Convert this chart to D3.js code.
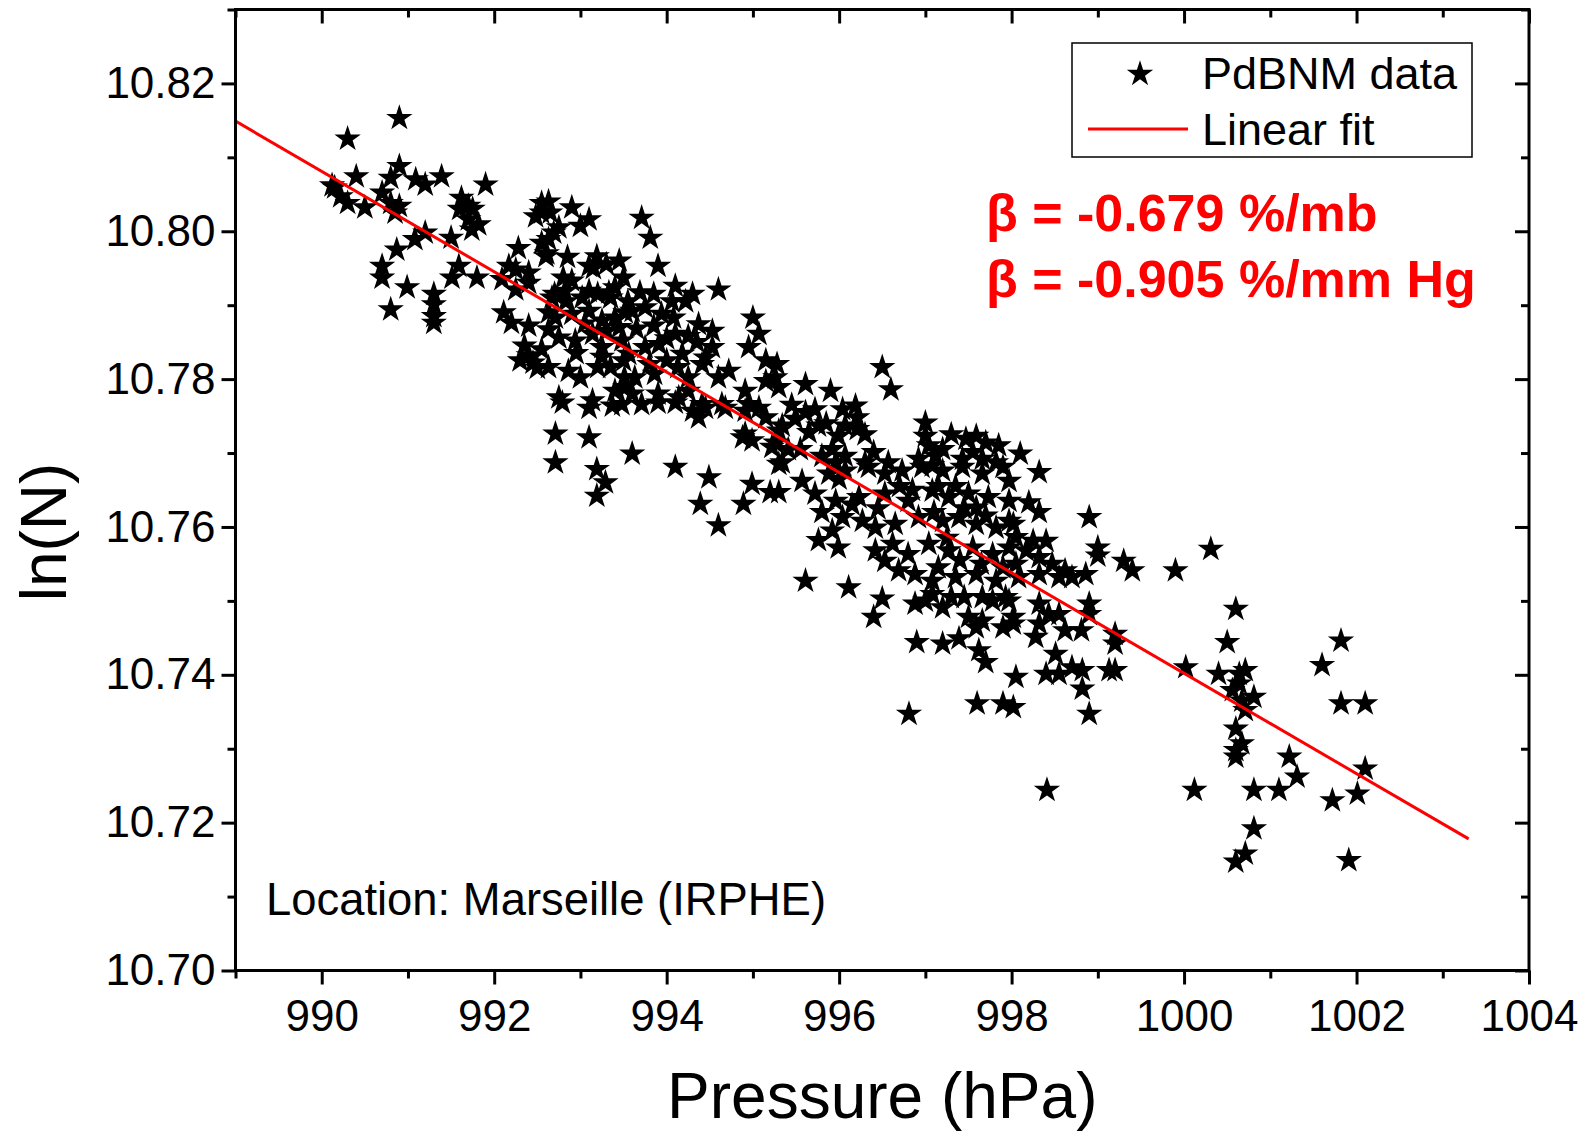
<!DOCTYPE html>
<html><head><meta charset="utf-8">
<script src="https://cdn.jsdelivr.net/npm/d3@7"></script>
<style>body{margin:0;background:#fff}svg{display:block}</style>
</head><body><svg id="c" width="1590" height="1134"></svg>
<script>
const pressure = [
990.15,990.12,990.22,990.3,990.3,990.4,990.5,990.7,990.8,990.9,990.9,990.9,990.8,991.09,991.2,991.39,991.9,991.62,991.7,992.55,992.63,
990.85,991.2,991.08,991.5,990.87,990.7,990.7,990.99,991.3,991.3,991.3,990.8,991.3,991.59,991.51,991.8,991.7,991.82,991.74,991.6,991.75,992.48,992.55,992.28,992.55,992.6,992.63,992.17,992.25,992.4,992.4,992.09,992.25,992.11,992.2,992.4,992.63,992.63,
992.35,992.4,992.45,992.5,992.3,992.55,
992.9,993.1,993.0,992.69,992.61,993.71,993.81,993.9,993.19,993.1,992.8,992.9,992.82,992.7,993.5,993.4,993.33,993.1,993.2,993.69,994.1,994.3,994.6,
992.67,992.83,993.02,993.35,993.52,994.06,994.22,
992.71,992.9,993.1,993.25,993.4,993.6,993.75,993.94,994.08,994.37,994.53,995.0,995.07,
992.75,992.94,993.14,993.25,993.48,993.56,993.75,993.91,994.1,994.18,994.45,994.53,994.95,995.15,
992.63,992.86,993.0,993.2,993.35,993.51,993.63,993.86,994.13,994.25,994.41,994.6,994.72,994.91,995.15,995.26,
992.75,993.14,993.4,993.52,993.6,993.71,993.9,994.14,994.25,994.41,994.64,994.95,
992.79,993.1,993.37,993.48,993.9,994.1,994.3,994.37,994.45,994.68,994.91,995.07,995.15,994.91,994.99,994.88,995.22,995.3,995.3,992.71,993.1,992.71,993.6,993.19,993.29,993.19,994.1,994.49,994.39,994.6,994.99,994.89,995.2,
995.28,995.3,995.61,995.9,996.5,996.6,996.19,996.04,996.21,996.21,996.07,995.99,995.61,995.72,995.49,995.76,995.65,995.34,995.26,995.34,995.41,995.92,995.8,996.07,995.96,996.4,996.57,996.3,997.0,997.0,997.04,996.92,997.12,997.08,997.47,997.59,997.7,997.55,997.43,997.66,997.82,
995.3,995.57,995.88,996.07,996.34,996.53,996.73,996.96,997.2,997.43,997.66,997.9,997.97,
995.72,995.96,996.23,996.53,996.8,997.08,997.27,997.5,997.73,997.97,997.59,
996.04,996.27,996.42,996.65,996.92,997.2,997.39,997.59,997.82,997.97,995.92,
995.76,995.99,996.42,996.62,996.8,997.04,997.27,997.55,997.78,997.97,996.53,
995.61,996.11,996.69,996.88,997.08,997.35,997.59,997.82,
996.5,996.4,996.88,997.0,997.2,997.08,997.3,997.5,997.66,997.59,997.9,998.02,997.78,997.93,997.66,996.9,997.2,997.39,997.62,997.7,996.81,997.6,997.9,998.02,998.05,
998.1,998.32,998.2,998.32,998.9,999.0,999.0,999.3,999.4,999.9,1000.31,998.02,998.05,998.25,998.4,998.17,998.32,998.47,998.05,998.62,998.86,998.7,
998.08,998.32,998.55,997.97,998.32,998.43,998.02,998.32,998.28,998.55,998.62,998.81,998.9,998.9,999.2,999.2,998.51,998.4,998.55,998.7,998.82,999.13,999.2,998.82,998.9,1000.02,1000.6,1000.5,1000.4,1000.64,1000.64,1000.56,1000.67,
998.41,1000.12,1000.6,1000.6,1000.6,1000.6,
1001.82,1001.6,1001.82,1002.1,1000.71,1000.81,1000.71,1000.67,1001.22,1001.31,1000.81,1001.1,1001.72,1002.01,1002.1,1000.81,1000.71,1001.91,
993.05,993.3,993.45,993.65,993.85,994.0,994.25,994.35,993.5,993.8,994.0,993.25,992.95,993.15,993.3,993.45,992.85,992.75,992.65,993.55,993.85,
997.15,997.35,996.85,997.1,997.45,997.7,997.25,997.4,997.65,997.15,997.9,997.45,997.2,997.3,997.85,996.7,996.45,996.15,
995.45,995.85,996.3,995.55,996.0,995.8
];
const lnN = [
10.8059,10.8062,10.8047,10.8125,10.8038,10.8074,10.8032,10.8052,10.8038,10.8034,10.8153,10.8088,10.8072,10.807,10.8063,10.8074,10.8063,10.8045,10.8034,10.8038,10.804,
10.8025,10.7998,10.7989,10.7991,10.7975,10.7953,10.7937,10.7924,10.7915,10.7901,10.7885,10.7894,10.7876,10.7953,10.7937,10.7937,10.8016,10.8009,10.8002,10.803,10.803,10.802,10.8025,10.7977,10.7984,10.7966,10.7989,10.7953,10.7948,10.7944,10.793,10.7935,10.7921,10.789,10.7876,10.7872,10.789,10.7867,
10.7845,10.7832,10.7822,10.7815,10.7825,10.784,
10.8032,10.8016,10.8007,10.7998,10.797,10.8018,10.7991,10.7953,10.7966,10.7953,10.7937,10.7933,10.7919,10.7915,10.7937,10.7924,10.7917,10.7919,10.7915,10.7917,10.7926,10.7915,10.7921,
10.791,10.7905,10.791,10.791,10.789,10.7905,10.7905,
10.7883,10.7888,10.7892,10.7879,10.7883,10.7892,10.7897,10.7888,10.7883,10.7874,10.7865,10.7883,10.7861,
10.7856,10.7852,10.7861,10.7843,10.7852,10.7834,10.7843,10.7847,10.7861,10.7834,10.7829,10.7843,10.7843,10.7825,
10.7816,10.7811,10.7802,10.7816,10.7816,10.7802,10.7802,10.7807,10.7816,10.7802,10.782,10.7802,10.7811,10.7784,10.7797,10.7802,
10.7775,10.7771,10.7784,10.7789,10.778,10.7766,10.778,10.7775,10.7784,10.7766,10.7766,10.7766,
10.7768,10.7761,10.7764,10.7766,10.7768,10.7768,10.7757,10.7748,10.7761,10.7761,10.7757,10.7761,10.7748,10.7726,10.7717,10.7721,10.7708,10.773,10.7685,10.7726,10.7721,10.7687,10.7699,10.7678,10.766,10.7642,10.7681,10.7667,10.7631,10.7602,10.7658,10.7631,10.7647,
10.782,10.7789,10.7793,10.7784,10.7816,10.7786,10.7764,10.7759,10.7748,10.7732,10.7737,10.7723,10.7755,10.7759,10.7746,10.7737,10.7728,10.7737,10.7714,10.7687,10.7705,10.7705,10.7696,10.7696,10.7687,10.7701,10.7687,10.7687,10.7741,10.7723,10.771,10.7692,10.7696,10.7683,10.7719,10.7723,10.7714,10.7701,10.7692,10.7692,10.7687,
10.7647,10.7662,10.7672,10.7676,10.7681,10.7672,10.7676,10.7681,10.7676,10.7681,10.7672,10.7681,10.7662,
10.7645,10.7635,10.764,10.7645,10.7635,10.7649,10.764,10.7645,10.764,10.7635,10.7626,
10.7613,10.7608,10.7599,10.7604,10.7613,10.7608,10.7613,10.7604,10.7599,10.7608,10.7595,
10.7582,10.7572,10.7568,10.7577,10.7563,10.7577,10.7568,10.7572,10.7563,10.7572,10.7554,
10.7527,10.7518,10.7541,10.7536,10.7527,10.7532,10.7536,10.7527,
10.7503,10.7478,10.7496,10.75,10.7491,10.7509,10.7505,10.7478,10.7473,10.7464,10.7464,10.7478,10.75,10.7505,10.7505,10.7444,10.7442,10.7449,10.7433,10.7417,10.7347,10.7361,10.7361,10.7356,10.7397,
10.7699,10.7674,10.7633,10.762,10.7613,10.7572,10.7561,10.7554,10.7541,10.7541,10.757,10.7604,10.7586,10.7581,10.7581,10.7568,10.7559,10.755,10.755,10.7541,10.7536,10.7532,
10.7532,10.7536,10.7532,10.75,10.7496,10.7482,10.7469,10.7469,10.7451,10.7482,10.746,10.746,10.7496,10.7482,10.7455,10.7442,10.7428,10.7401,10.7401,10.741,10.7406,10.7406,10.7406,10.7381,10.7347,10.741,10.7489,10.7444,10.7401,10.7401,10.7388,10.7379,10.7365,
10.7244,10.7244,10.7327,10.7298,10.7289,10.7147,
10.7446,10.7413,10.7361,10.7361,10.7406,10.737,10.7352,10.7307,10.7289,10.7262,10.7244,10.7244,10.723,10.7239,10.7273,10.7192,10.7158,10.7149,
10.7875,10.7865,10.787,10.7868,10.7872,10.7855,10.7858,10.785,10.7825,10.782,10.7825,10.783,10.7835,10.795,10.7955,10.796,10.7965,10.8005,10.8025,10.7905,10.7915,
10.7655,10.7655,10.765,10.762,10.7625,10.7615,10.7585,10.7555,10.755,10.7545,10.7545,10.7505,10.7705,10.7725,10.771,10.7655,10.7625,10.763,
10.7765,10.774,10.7725,10.7705,10.7665,10.762
];
const fitX = [989, 1003.3];
const fitY = [10.8149, 10.7178];
const xTicks = [990, 992, 994, 996, 998, 1000, 1002, 1004];
const xMinor = [989, 991, 993, 995, 997, 999, 1001, 1003];
const yTicks = [10.70, 10.72, 10.74, 10.76, 10.78, 10.80, 10.82];
const yMinor = [10.71, 10.73, 10.75, 10.77, 10.79, 10.81, 10.83];
const legendLabels = ["PdBNM data", "Linear fit"];
const annotations = ["β = -0.679 %/mb", "β = -0.905 %/mm Hg"];
const locationText = "Location: Marseille (IRPHE)";

const svg = d3.select("#c");
const L = 235.5, R = 1529, T = 9.5, B = 970.5;
const x = d3.scaleLinear().domain([989, 1004]).range([L, R]);
const y = d3.scaleLinear().domain([10.70, 10.83]).range([B, T]);
const font = "'Liberation Sans', Arial, sans-serif";

svg.append("clipPath").attr("id","clip").append("rect")
  .attr("x", L).attr("y", T).attr("width", R - L).attr("height", B - T);

const starSize = 215;
const star = d3.symbol(d3.symbolStar, starSize);
const pts = pressure.map((p, i) => [p, lnN[i]]);
svg.append("g").attr("clip-path","url(#clip)").selectAll("path").data(pts).join("path")
  .attr("d", star)
  .attr("transform", d => `translate(${x(d[0])},${y(d[1])})`)
  .attr("fill", "#000");

svg.append("g").attr("clip-path","url(#clip)").append("path")
  .datum(fitX.map((v, i) => [v, fitY[i]]))
  .attr("d", d3.line().x(d => x(d[0])).y(d => y(d[1])))
  .attr("stroke", "#ff0000").attr("stroke-width", 3).attr("fill", "none");

function styleAxis(g) {
  g.selectAll(".domain").remove();
  g.selectAll("line").attr("stroke", "#000").attr("stroke-width", 3);
  g.selectAll("text").attr("font-family", font).attr("font-size", 44).attr("fill", "#000");
}
const fmtY = d3.format(".2f");
svg.append("g").attr("transform", `translate(${L},0)`)
  .call(d3.axisLeft(y).tickValues(yTicks).tickFormat(fmtY).tickSize(14).tickPadding(6)).call(styleAxis);
svg.append("g").attr("transform", `translate(${L},0)`)
  .call(d3.axisLeft(y).tickValues(yMinor).tickFormat("").tickSize(8)).call(styleAxis);
svg.append("g").attr("transform", `translate(${R},0)`)
  .call(d3.axisRight(y).tickValues(yTicks).tickFormat("").tickSize(-14)).call(styleAxis);
svg.append("g").attr("transform", `translate(${R},0)`)
  .call(d3.axisRight(y).tickValues(yMinor).tickFormat("").tickSize(-8)).call(styleAxis);
const bx = svg.append("g").attr("transform", `translate(0,${B})`)
  .call(d3.axisBottom(x).tickValues(xTicks).tickFormat(d3.format("d")).tickSize(14)).call(styleAxis);
bx.selectAll("text").attr("dy", null).attr("y", 60);
svg.append("g").attr("transform", `translate(0,${B})`)
  .call(d3.axisBottom(x).tickValues(xMinor).tickFormat("").tickSize(8)).call(styleAxis);
svg.append("g").attr("transform", `translate(0,${T})`)
  .call(d3.axisTop(x).tickValues(xTicks).tickFormat("").tickSize(-14)).call(styleAxis);
svg.append("g").attr("transform", `translate(0,${T})`)
  .call(d3.axisTop(x).tickValues(xMinor).tickFormat("").tickSize(-8)).call(styleAxis);

svg.append("rect").attr("x", L).attr("y", T).attr("width", R - L).attr("height", B - T)
  .attr("fill", "none").attr("stroke", "#000").attr("stroke-width", 3);

svg.append("text").attr("x", (L + R) / 2).attr("y", 1118).attr("text-anchor", "middle")
  .attr("font-family", font).attr("font-size", 64).text("Pressure (hPa)");
svg.append("text").attr("transform", `translate(66,532) rotate(-90)`).attr("text-anchor", "middle")
  .attr("font-family", font).attr("font-size", 64).text("ln(N)");

const lg = svg.append("g");
lg.append("rect").attr("x", 1072).attr("y", 43).attr("width", 400).attr("height", 114)
  .attr("fill", "#fff").attr("stroke", "#000").attr("stroke-width", 1.5);
lg.append("path").attr("d", star).attr("transform", "translate(1140,74)").attr("fill", "#000");
lg.append("line").attr("x1", 1088).attr("x2", 1188).attr("y1", 129).attr("y2", 129)
  .attr("stroke", "#ff0000").attr("stroke-width", 3);
lg.selectAll("text").data(legendLabels).join("text")
  .attr("x", 1202).attr("y", (d, i) => 89 + i * 56)
  .attr("font-family", font).attr("font-size", 45).text(d => d);

svg.selectAll("text.ann").data(annotations).join("text").attr("class", "ann")
  .attr("x", 986).attr("y", (d, i) => 231 + i * 66)
  .attr("font-family", font).attr("font-size", 52).attr("font-weight", "bold")
  .attr("fill", "#ff0000").text(d => d);

svg.append("text").attr("x", 266).attr("y", 915).attr("font-family", font)
  .attr("font-size", 45.4).text(locationText);
</script></body></html>
